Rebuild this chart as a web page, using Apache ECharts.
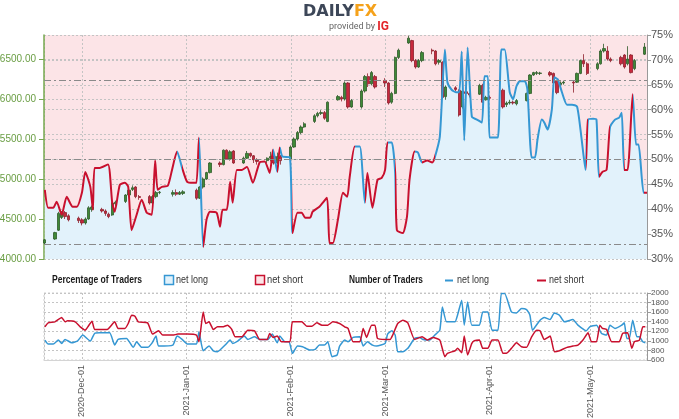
<!DOCTYPE html>
<html>
<head>
<meta charset="utf-8">
<script src="https://cdn.jsdelivr.net/npm/echarts@6/dist/echarts.min.js"></script>
<style>
  html, body { margin: 0; padding: 0; background: #fff; }
  #chart { width: 679px; height: 419px; }
</style>
</head>
<body>
<div id="chart"></div>
<script>
// daily candles: [date, open, close, low, high]
const candles = [
  ['2020-11-20', 4200, 4240, 4180, 4250], ['2020-11-23', 4250, 4330, 4240, 4340], ['2020-11-24', 4360, 4570, 4350, 4590],
  ['2020-11-25', 4520, 4580, 4500, 4600], ['2020-11-26', 4580, 4530, 4500, 4600], ['2020-11-27', 4540, 4490, 4470, 4560],
  ['2020-11-30', 4510, 4480, 4450, 4530], ['2020-12-01', 4490, 4450, 4420, 4510], ['2020-12-02', 4450, 4500, 4430, 4520],
  ['2020-12-03', 4500, 4640, 4490, 4660], ['2020-12-04', 4620, 4650, 4590, 4670], ['2020-12-07', 4620, 4600, 4580, 4640],
  ['2020-12-08', 4600, 4570, 4540, 4620], ['2020-12-09', 4560, 4530, 4510, 4580], ['2020-12-10', 4550, 4700, 4540, 4710],
  ['2020-12-11', 4690, 4710, 4660, 4730], ['2020-12-14', 4720, 4800, 4700, 4810], ['2020-12-15', 4800, 4860, 4790, 4880],
  ['2020-12-16', 4870, 4890, 4850, 4920], ['2020-12-17', 4900, 4780, 4760, 4910], ['2020-12-18', 4780, 4770, 4740, 4800],
  ['2020-12-21', 4780, 4700, 4680, 4800], ['2020-12-22', 4700, 4780, 4690, 4800], ['2020-12-23', 4780, 4830, 4760, 4850],
  ['2020-12-24', 4830, 4835, 4810, 4850], ['2020-12-28', 4810, 4830, 4780, 4860], ['2020-12-29', 4830, 4810, 4790, 4870],
  ['2020-12-30', 4810, 4830, 4800, 4850], ['2020-12-31', 4820, 4840, 4800, 4860], ['2021-01-04', 4860, 4760, 4740, 4880],
  ['2021-01-05', 4760, 4900, 4750, 4910], ['2021-01-06', 4900, 5000, 4880, 5020], ['2021-01-07', 5000, 5080, 4990, 5090],
  ['2021-01-08', 5080, 5200, 5070, 5210], ['2021-01-11', 5200, 5180, 5150, 5220], ['2021-01-12', 5180, 5360, 5170, 5370],
  ['2021-01-13', 5360, 5250, 5240, 5370], ['2021-01-14', 5250, 5340, 5230, 5360], ['2021-01-15', 5350, 5200, 5190, 5360],
  ['2021-01-18', 5200, 5260, 5190, 5280], ['2021-01-19', 5260, 5320, 5250, 5350], ['2021-01-20', 5320, 5290, 5270, 5330],
  ['2021-01-21', 5290, 5240, 5200, 5300], ['2021-01-22', 5240, 5220, 5180, 5260], ['2021-01-25', 5230, 5260, 5200, 5270],
  ['2021-01-26', 5260, 5280, 5220, 5340], ['2021-01-27', 5280, 5200, 5180, 5300], ['2021-01-28', 5200, 5280, 5190, 5330],
  ['2021-01-29', 5280, 5230, 5180, 5300], ['2021-02-01', 5250, 5400, 5220, 5420], ['2021-02-02', 5400, 5500, 5390, 5520],
  ['2021-02-03', 5500, 5580, 5480, 5600], ['2021-02-04', 5580, 5650, 5560, 5670], ['2021-02-05', 5650, 5690, 5640, 5710],
  ['2021-02-08', 5720, 5790, 5700, 5810], ['2021-02-09', 5790, 5820, 5770, 5840], ['2021-02-10', 5820, 5830, 5800, 5860],
  ['2021-02-11', 5830, 5760, 5740, 5850], ['2021-02-12', 5720, 5960, 5710, 5970], ['2021-02-15', 5990, 6030, 5980, 6050],
  ['2021-02-16', 6020, 6000, 5970, 6040], ['2021-02-17', 6000, 6200, 5980, 6220], ['2021-02-18', 6200, 5900, 5880, 6210],
  ['2021-02-19', 5900, 5980, 5890, 6000], ['2021-02-22', 5900, 6100, 5880, 6120], ['2021-02-23', 6100, 6280, 6080, 6300],
  ['2021-02-24', 6280, 6190, 6150, 6320], ['2021-02-25', 6190, 6330, 6170, 6350], ['2021-02-26', 6280, 6150, 6130, 6300],
  ['2021-03-01', 6230, 6200, 6150, 6260], ['2021-03-02', 6200, 5950, 5930, 6210], ['2021-03-03', 5960, 6070, 5940, 6090],
  ['2021-03-04', 6070, 6520, 6060, 6530], ['2021-03-05', 6520, 6610, 6500, 6630], ['2021-03-08', 6700, 6760, 6690, 6790],
  ['2021-03-09', 6730, 6480, 6460, 6740], ['2021-03-10', 6480, 6400, 6380, 6500], ['2021-03-11', 6400, 6480, 6390, 6500],
  ['2021-03-12', 6480, 6580, 6460, 6600], ['2021-03-15', 6610, 6600, 6560, 6630], ['2021-03-16', 6600, 6440, 6420, 6610],
  ['2021-03-17', 6460, 6480, 6430, 6500], ['2021-03-18', 6460, 6020, 6000, 6470], ['2021-03-19', 6030, 6150, 5990, 6170],
  ['2021-03-22', 6140, 6120, 6100, 6160], ['2021-03-23', 6110, 5800, 5780, 6120], ['2021-03-24', 5900, 6100, 5880, 6120],
  ['2021-03-25', 6090, 6070, 6040, 6110], ['2021-03-26', 6070, 6050, 6020, 6080], ['2021-03-29', 6060, 6170, 6050, 6190],
  ['2021-03-30', 6170, 5960, 5950, 6190], ['2021-03-31', 5990, 6020, 5980, 6040], ['2021-04-01', 6020, 6010, 5990, 6040],
  ['2021-04-05', 6110, 5900, 5880, 6130], ['2021-04-06', 5930, 5950, 5900, 5970], ['2021-04-07', 5950, 5960, 5930, 5990],
  ['2021-04-08', 5960, 5950, 5930, 5980], ['2021-04-09', 5940, 5980, 5920, 6000], ['2021-04-12', 5980, 6070, 5970, 6080],
  ['2021-04-13', 6070, 6300, 6060, 6310], ['2021-04-14', 6300, 6330, 6290, 6340], ['2021-04-15', 6320, 6330, 6300, 6350],
  ['2021-04-16', 6320, 6325, 6300, 6340], ['2021-04-19', 6330, 6300, 6280, 6350], ['2021-04-20', 6320, 6200, 6180, 6330],
  ['2021-04-21', 6230, 6080, 6060, 6240], ['2021-04-22', 6180, 6200, 6160, 6220], ['2021-04-23', 6200, 6210, 6180, 6230],
  ['2021-04-26', 6210, 6200, 6080, 6230], ['2021-04-27', 6210, 6320, 6200, 6330], ['2021-04-28', 6320, 6480, 6310, 6490],
  ['2021-04-29', 6480, 6440, 6400, 6560], ['2021-04-30', 6440, 6320, 6300, 6460], ['2021-05-03', 6380, 6440, 6360, 6460],
  ['2021-05-04', 6440, 6600, 6430, 6620], ['2021-05-05', 6600, 6630, 6580, 6690], ['2021-05-06', 6600, 6500, 6480, 6660],
  ['2021-05-07', 6500, 6480, 6460, 6520], ['2021-05-10', 6520, 6440, 6420, 6540], ['2021-05-11', 6550, 6400, 6380, 6560],
  ['2021-05-12', 6440, 6500, 6420, 6660], ['2021-05-13', 6550, 6330, 6320, 6560], ['2021-05-14', 6380, 6480, 6360, 6500],
  ['2021-05-17', 6560, 6650, 6550, 6700]
]

// percentage of traders net long
const pctDates = [
  '2020-11-20 00:00', '2020-11-21 00:00', '2020-11-22 12:00', '2020-11-23 12:00', '2020-11-25 00:00', '2020-11-26 12:00', '2020-11-28 06:00', '2020-11-29 12:00',
  '2020-12-01 00:00', '2020-12-02 00:00', '2020-12-03 12:00', '2020-12-04 06:00', '2020-12-04 18:00', '2020-12-06 06:00', '2020-12-08 18:00', '2020-12-10 00:00',
  '2020-12-10 18:00', '2020-12-12 06:00', '2020-12-13 18:00', '2020-12-14 18:00', '2020-12-15 18:00', '2020-12-17 06:00', '2020-12-18 18:00', '2020-12-20 06:00',
  '2020-12-21 18:00', '2020-12-22 18:00', '2020-12-23 12:00', '2020-12-24 18:00', '2020-12-26 12:00', '2020-12-27 18:00', '2020-12-29 06:00', '2020-12-30 18:00',
  '2021-01-01 06:00', '2021-01-03 00:00', '2021-01-04 00:00', '2021-01-04 18:00', '2021-01-06 00:00', '2021-01-07 00:00', '2021-01-08 00:00', '2021-01-10 00:00',
  '2021-01-11 00:00', '2021-01-11 18:00', '2021-01-13 00:00', '2021-01-14 00:00', '2021-01-14 18:00', '2021-01-16 00:00', '2021-01-17 12:00', '2021-01-19 00:00',
  '2021-01-20 18:00', '2021-01-22 18:00', '2021-01-24 06:00', '2021-01-25 18:00', '2021-01-26 18:00', '2021-01-28 00:00', '2021-01-28 18:00', '2021-01-29 12:00',
  '2021-01-31 18:00', '2021-02-01 12:00', '2021-02-03 00:00', '2021-02-04 06:00', '2021-02-05 06:00', '2021-02-06 18:00', '2021-02-07 12:00', '2021-02-09 12:00',
  '2021-02-11 18:00', '2021-02-12 12:00', '2021-02-13 12:00', '2021-02-15 00:00', '2021-02-16 12:00', '2021-02-17 18:00', '2021-02-18 12:00', '2021-02-20 00:00',
  '2021-02-21 12:00', '2021-02-23 00:00', '2021-02-23 18:00', '2021-02-25 06:00', '2021-02-26 18:00', '2021-02-28 00:00', '2021-03-01 00:00', '2021-03-01 18:00',
  '2021-03-03 00:00', '2021-03-04 00:00', '2021-03-04 12:00', '2021-03-06 06:00', '2021-03-07 12:00', '2021-03-08 06:00', '2021-03-09 18:00', '2021-03-10 18:00',
  '2021-03-12 00:00', '2021-03-13 12:00', '2021-03-15 00:00', '2021-03-15 18:00', '2021-03-17 06:00', '2021-03-18 18:00', '2021-03-19 12:00', '2021-03-20 18:00',
  '2021-03-22 00:00', '2021-03-23 00:00', '2021-03-23 18:00', '2021-03-24 12:00', '2021-03-25 12:00', '2021-03-26 18:00', '2021-03-28 06:00', '2021-03-29 18:00',
  '2021-03-30 12:00', '2021-03-31 12:00', '2021-04-01 00:00', '2021-04-02 00:00', '2021-04-03 12:00', '2021-04-04 12:00', '2021-04-05 12:00', '2021-04-07 00:00',
  '2021-04-08 00:00', '2021-04-09 00:00', '2021-04-10 00:00', '2021-04-11 12:00', '2021-04-12 06:00', '2021-04-13 12:00', '2021-04-14 12:00', '2021-04-15 06:00',
  '2021-04-16 12:00', '2021-04-17 06:00', '2021-04-18 06:00', '2021-04-19 12:00', '2021-04-20 06:00', '2021-04-21 06:00', '2021-04-22 12:00', '2021-04-24 00:00',
  '2021-04-25 12:00', '2021-04-27 00:00', '2021-04-28 06:00', '2021-04-29 12:00', '2021-04-30 06:00', '2021-05-01 18:00', '2021-05-02 18:00', '2021-05-03 12:00',
  '2021-05-04 12:00', '2021-05-05 18:00', '2021-05-06 18:00', '2021-05-08 06:00', '2021-05-09 12:00', '2021-05-10 06:00', '2021-05-11 00:00', '2021-05-12 00:00',
  '2021-05-13 12:00', '2021-05-14 12:00', '2021-05-15 06:00', '2021-05-16 18:00', '2021-05-17 18:00'
]
const pctLong = [
  43.9, 40.3, 40.3, 41.5, 38.9, 42.5, 40.5, 40.5,
  43.3, 47.5, 44.5, 39.9, 48.3, 48.3, 49.0, 41.3, 39.5, 44.9, 45.3, 44.5, 35.8, 38.9, 41.9, 39.3, 38.9, 49.8, 43.9, 44.5, 44.7, 47.9, 51.6, 48.3,
  45.5, 45.3, 45.3, 54.4, 32.4, 37.9, 39.5, 39.3, 36.5, 39.9, 39.9, 45.5, 41.3, 47.9, 47.9, 48.5, 45.3, 49.4, 49.6, 47.3, 52.0, 47.5, 52.4, 50.6, 50.4,
  35.2, 39.3, 39.3, 38.3, 38.3, 39.5, 40.5, 42.3, 33.2, 33.2, 37.9, 43.3, 42.5, 46.5, 52.6, 52.6, 41.3, 47.3, 40.3, 45.9, 46.3,
  47.9, 53.4, 53.4, 47.3, 35.8, 35.2, 38.5, 45.9, 51.6, 51.4, 49.4, 49.8, 49.4, 50.4, 54.6, 72.1, 65.5, 64.0, 63.5, 63.5, 71.7, 53.8, 72.5, 58.6, 58.0, 57.4, 66.7, 66.7,
  54.4, 54.4, 54.4, 72.1, 72.1, 63.5, 62.1, 64.7, 65.7, 65.7, 64.0, 50.4, 50.4, 54.0, 58.0, 57.4, 56.0, 60.0, 66.5, 66.1, 63.5, 61.0, 61.0, 60.6, 54.6, 47.9, 58.0,
  58.2, 58.0, 46.5, 47.5, 47.9, 56.4, 58.0, 58.4, 59.4, 47.9, 47.9, 63.1, 53.0, 53.0, 43.3, 43.3
]

// number of traders net long
const longDates = [
  '2020-11-20 00:00', '2020-11-21 00:00', '2020-11-22 12:00', '2020-11-24 00:00', '2020-11-25 00:00', '2020-11-26 00:00', '2020-11-28 00:00', '2020-11-29 18:00',
  '2020-12-01 06:00', '2020-12-03 12:00', '2020-12-04 18:00', '2020-12-06 06:00', '2020-12-09 06:00', '2020-12-10 18:00', '2020-12-11 18:00', '2020-12-14 06:00',
  '2020-12-16 06:00', '2020-12-17 06:00', '2020-12-18 18:00', '2020-12-20 12:00', '2020-12-21 18:00', '2020-12-23 00:00', '2020-12-23 18:00', '2020-12-28 00:00',
  '2020-12-29 06:00', '2020-12-30 18:00', '2021-01-01 06:00', '2021-01-04 00:00', '2021-01-04 18:00', '2021-01-06 00:00', '2021-01-07 18:00', '2021-01-09 00:00',
  '2021-01-10 06:00', '2021-01-12 12:00', '2021-01-14 00:00', '2021-01-14 18:00', '2021-01-16 06:00', '2021-01-18 06:00', '2021-01-19 06:00', '2021-01-21 06:00',
  '2021-01-22 18:00', '2021-01-25 06:00', '2021-01-26 12:00', '2021-01-28 00:00', '2021-01-28 18:00', '2021-01-30 06:00', '2021-01-31 12:00', '2021-02-01 12:00',
  '2021-02-03 00:00', '2021-02-04 12:00', '2021-02-06 18:00', '2021-02-08 06:00', '2021-02-09 12:00', '2021-02-11 00:00', '2021-02-12 00:00', '2021-02-13 06:00',
  '2021-02-14 18:00', '2021-02-15 12:00', '2021-02-17 00:00', '2021-02-18 00:00', '2021-02-19 12:00', '2021-02-21 12:00', '2021-02-22 12:00', '2021-02-23 18:00',
  '2021-02-25 06:00', '2021-02-26 12:00', '2021-03-01 00:00', '2021-03-01 18:00', '2021-03-03 00:00', '2021-03-04 00:00', '2021-03-04 18:00', '2021-03-06 06:00',
  '2021-03-07 18:00', '2021-03-09 18:00', '2021-03-11 06:00', '2021-03-12 06:00', '2021-03-14 06:00', '2021-03-15 18:00', '2021-03-17 06:00', '2021-03-18 00:00',
  '2021-03-19 06:00', '2021-03-21 18:00', '2021-03-22 12:00', '2021-03-23 18:00', '2021-03-24 12:00', '2021-03-25 12:00', '2021-03-26 18:00', '2021-03-29 00:00',
  '2021-03-30 00:00', '2021-03-31 12:00', '2021-04-01 18:00', '2021-04-03 12:00', '2021-04-04 12:00', '2021-04-05 12:00', '2021-04-07 12:00', '2021-04-09 00:00',
  '2021-04-10 12:00', '2021-04-12 00:00', '2021-04-13 00:00', '2021-04-13 18:00', '2021-04-16 00:00', '2021-04-17 06:00', '2021-04-19 00:00', '2021-04-20 06:00',
  '2021-04-21 18:00', '2021-04-23 06:00', '2021-04-25 18:00', '2021-04-27 06:00', '2021-04-29 18:00', '2021-04-30 18:00', '2021-05-02 18:00', '2021-05-04 06:00',
  '2021-05-05 18:00', '2021-05-06 18:00', '2021-05-08 06:00', '2021-05-10 06:00', '2021-05-11 00:00', '2021-05-11 18:00', '2021-05-12 12:00', '2021-05-13 12:00',
  '2021-05-14 18:00', '2021-05-15 12:00', '2021-05-16 12:00', '2021-05-17 06:00'
]
const longCount = [
  1016, 933, 933, 1016, 947, 1030, 960, 1002,
  1120, 995, 1155, 1168, 1168, 912, 1030, 1051, 864, 981, 864, 864, 947, 1099, 891, 912, 1099, 1030,
  933, 933, 1189, 793, 891, 793, 773, 912, 1016, 947, 995, 1099, 1030, 1085, 1030, 1030, 1141, 960, 1099, 981, 981,
  739, 891, 877, 808, 822, 912, 912, 981, 669, 704, 891, 1016, 981, 1072, 1085, 891, 981, 912, 891,
  947, 1141, 1210, 1120, 773, 773, 843, 1051, 1072, 1030, 1016, 1120, 1224, 1709, 1397, 1397, 1536, 1848, 1328, 1813, 1328, 1328, 1605, 1605,
  1224, 1224, 1987, 1987, 1605, 1584, 1675, 1654, 1536, 1224, 1432, 1488, 1446, 1584, 1536, 1397, 1446, 1328, 1210, 1293,
  1328, 1155, 1120, 1328, 1259, 1328, 1376, 1051, 1051, 1432, 1085, 1085, 981, 960
]

// number of traders net short
const shortDates = [
  '2020-11-20 00:00', '2020-11-21 00:00', '2020-11-23 00:00', '2020-11-25 00:00', '2020-11-26 00:00', '2020-11-26 18:00', '2020-11-29 00:00', '2020-11-30 12:00',
  '2020-12-02 00:00', '2020-12-02 18:00', '2020-12-04 00:00', '2020-12-04 18:00', '2020-12-06 06:00', '2020-12-08 12:00', '2020-12-10 18:00', '2020-12-11 18:00',
  '2020-12-13 18:00', '2020-12-14 18:00', '2020-12-15 18:00', '2020-12-16 18:00', '2020-12-17 18:00', '2020-12-20 12:00', '2020-12-22 00:00', '2020-12-23 18:00',
  '2020-12-25 00:00', '2020-12-28 00:00', '2020-12-29 12:00', '2021-01-01 06:00', '2021-01-04 00:00', '2021-01-04 18:00', '2021-01-06 00:00', '2021-01-06 18:00',
  '2021-01-07 18:00', '2021-01-09 00:00', '2021-01-10 06:00', '2021-01-11 18:00', '2021-01-13 06:00', '2021-01-14 12:00', '2021-01-15 12:00', '2021-01-17 12:00',
  '2021-01-19 06:00', '2021-01-21 06:00', '2021-01-22 18:00', '2021-01-25 00:00', '2021-01-25 18:00', '2021-01-26 18:00', '2021-01-28 00:00', '2021-01-29 06:00',
  '2021-01-31 18:00', '2021-02-01 12:00', '2021-02-04 06:00', '2021-02-05 18:00', '2021-02-07 06:00', '2021-02-08 18:00', '2021-02-10 06:00', '2021-02-12 00:00',
  '2021-02-13 12:00', '2021-02-15 12:00', '2021-02-17 00:00', '2021-02-18 00:00', '2021-02-19 12:00', '2021-02-21 12:00', '2021-02-22 12:00', '2021-02-23 12:00',
  '2021-02-25 00:00', '2021-02-26 00:00', '2021-02-26 18:00', '2021-03-01 00:00', '2021-03-02 12:00', '2021-03-03 06:00', '2021-03-04 18:00', '2021-03-06 06:00',
  '2021-03-07 18:00', '2021-03-09 18:00', '2021-03-12 00:00', '2021-03-13 12:00', '2021-03-15 06:00', '2021-03-17 06:00', '2021-03-18 18:00', '2021-03-19 12:00',
  '2021-03-21 18:00', '2021-03-22 12:00', '2021-03-23 18:00', '2021-03-24 12:00', '2021-03-25 12:00', '2021-03-26 18:00', '2021-03-27 12:00', '2021-03-29 00:00',
  '2021-03-30 00:00', '2021-03-31 12:00', '2021-04-01 18:00', '2021-04-03 12:00', '2021-04-05 00:00', '2021-04-06 00:00', '2021-04-07 12:00', '2021-04-09 00:00',
  '2021-04-10 12:00', '2021-04-12 00:00', '2021-04-13 12:00', '2021-04-15 00:00', '2021-04-16 00:00', '2021-04-17 06:00', '2021-04-19 00:00', '2021-04-20 06:00',
  '2021-04-21 18:00', '2021-04-24 00:00', '2021-04-25 18:00', '2021-04-27 06:00', '2021-04-28 18:00', '2021-04-30 06:00', '2021-05-01 06:00', '2021-05-02 18:00',
  '2021-05-03 18:00', '2021-05-04 12:00', '2021-05-05 18:00', '2021-05-07 06:00', '2021-05-09 12:00', '2021-05-10 12:00', '2021-05-12 00:00', '2021-05-13 06:00',
  '2021-05-14 00:00', '2021-05-15 12:00', '2021-05-16 12:00', '2021-05-17 06:00'
]
const shortCount = [
  1293, 1376, 1397, 1488, 1397, 1418, 1397, 1293,
  1224, 1293, 1411, 1238, 1238, 1238, 1397, 1259, 1259, 1363, 1536, 1515, 1397, 1376, 1141, 1210, 1120, 1120, 1141,
  1141, 1120, 981, 1605, 1363, 1397, 1238, 1293, 1293, 1328, 1238, 1085, 1085, 1224, 1210, 1030, 1030, 1155, 1072, 1099, 981, 981,
  1397, 1397, 1307, 1307, 1376, 1328, 1328, 1397, 1363, 1293, 1259, 981, 981, 1259, 1072, 1328, 1328, 1051,
  1030, 1030, 1120, 1363, 1432, 1376, 1030, 1085, 1016, 1072, 1016, 669, 739, 793, 843, 752, 1099, 704, 947, 1002, 1016, 843, 843,
  1016, 1016, 739, 739, 843, 960, 877, 864, 1085, 1224, 1210, 1030, 1099, 773, 793, 864, 891, 912, 1016, 1168,
  981, 981, 1328, 1259, 1238, 981, 981, 1155, 1168, 843, 981, 1016, 1293, 1293
]

const BLUE = '#3597d3'
const RED = '#c8102e'
const FONT = "'Liberation Sans', Arial, sans-serif"
const MONTHS = ['Jan', 'Feb', 'Mar', 'Apr', 'May', 'Jun', 'Jul', 'Aug', 'Sep', 'Oct', 'Nov', 'Dec']
const xMin = '2020-11-19 18:00'
const xMax = '2021-05-17 18:00'

function zip (dates, values) {
  return dates.map((d, i) => [d, values[i]])
}

// segments that start below 50% are drawn red, the rest blue
function redPieces () {
  const pieces = []
  for (let i = 0; i < pctLong.length - 1; i++) {
    if (pctLong[i] >= 50) continue
    const a = echarts.time.parse(i === 0 ? xMin : pctDates[i]).getTime()
    const b = echarts.time.parse(pctDates[i + 1]).getTime()
    const last = pieces[pieces.length - 1]
    if (last && last.lte === a) last.lte = b
    else pieces.push({ gte: a, lte: b, color: RED })
  }
  return pieces
}

// only month starts get a label
function monthLabel (v) {
  const d = new Date(v)
  if (d.getDate() !== 1 || d.getHours() !== 0) return ''
  return d.getFullYear() + '-' + MONTHS[d.getMonth()] + '-' + String(d.getDate()).padStart(2, '0')
}

// the original uses a condensed face, squeeze the legend text to its width
const ctx = document.createElement('canvas').getContext('2d')
function legendText (text, x, width, bold) {
  const font = (bold ? 'bold ' : '') + '11px ' + FONT
  ctx.font = font
  const w = ctx.measureText(text).width
  return { type: 'text', x: x, y: 280, scaleX: width / w, style: { text: text, font: font, fill: bold ? '#1a1a1a' : '#333', align: 'left', verticalAlign: 'middle' } }
}

const dotted = { show: true, lineStyle: { color: '#c4c4c4', type: [2, 2], width: 1 } }

const chart = echarts.init(document.getElementById('chart'))
chart.setOption({
  animation: false,
  textStyle: { fontFamily: FONT },
  grid: [
    { left: 44, right: 32, top: 35, height: 224, show: true, backgroundColor: '#fce4e7', borderWidth: 0, outerBoundsMode: 'none', containLabel: false },
    { left: 44, right: 32, top: 293, height: 67, show: true, borderColor: '#cfcfcf', borderWidth: 1, borderType: [2, 2], outerBoundsMode: 'none', containLabel: false }
  ],
  xAxis: [
    {
      type: 'time', gridIndex: 0, min: xMin, max: xMax, splitNumber: 6,
      axisLine: { show: false }, axisLabel: { show: false }, axisTick: { show: false },
      splitLine: dotted
    },
    {
      type: 'time', gridIndex: 1, min: xMin, max: xMax, splitNumber: 6,
      axisLine: { show: true, lineStyle: { color: '#d4d4d4' } },
      axisTick: { show: false },
      axisLabel: { rotate: 90, margin: 5, fontSize: 9, color: '#555', fontFamily: FONT, formatter: monthLabel, hideOverlap: false },
      splitLine: dotted
    }
  ],
  yAxis: [
    {
      type: 'value', gridIndex: 0, position: 'left', min: 4000, max: 6800, interval: 500,
      axisLine: { show: true, lineStyle: { color: '#76a84e', width: 1.5 } },
      axisTick: { show: true, length: 5, lineStyle: { color: '#76a84e' } },
      axisLabel: { color: '#6a9e44', fontSize: 10, margin: 8, showMaxLabel: false, fontFamily: FONT, formatter: v => v.toFixed(2) },
      splitLine: dotted
    },
    {
      type: 'value', gridIndex: 0, position: 'right', min: 30, max: 75, interval: 5,
      axisLine: { show: true, lineStyle: { color: '#999' } },
      axisTick: { show: true, length: 4, lineStyle: { color: '#999' } },
      axisLabel: { color: '#555', fontSize: 11, margin: 4, fontFamily: FONT, showMinLabel: true, showMaxLabel: true, formatter: v => v + '%' },
      splitLine: dotted
    },
    {
      type: 'value', gridIndex: 1, position: 'right', min: 600, max: 2000, interval: 200,
      axisLine: { show: true, lineStyle: { color: '#999' } },
      axisTick: { show: true, length: 4, lineStyle: { color: '#999' } },
      axisLabel: {
        color: '#555', fontSize: 8, lineHeight: 8, margin: 4, fontFamily: FONT, interval: 0,
        showMinLabel: true, showMaxLabel: true, hideOverlap: false, formatter: v => String(v)
      },
      splitLine: dotted
    }
  ],
  visualMap: [{
    type: 'piecewise', show: false, seriesIndex: 2, dimension: 0,
    pieces: redPieces(), outOfRange: { color: BLUE }
  }],
  series: [
    {
      // light blue fill below the net long share
      type: 'line', xAxisIndex: 0, yAxisIndex: 1, data: zip(pctDates, pctLong),
      showSymbol: false, smooth: 0.2, lineStyle: { width: 0 }, z: 1,
      areaStyle: { color: '#e2f2fb', opacity: 1 },
      markLine: {
        silent: true, symbol: 'none', label: { show: false },
        lineStyle: { color: '#8a8a8a', type: [7, 3, 2, 3], width: 1.2 },
        data: [{ yAxis: 66 }, { yAxis: 50 }, { yAxis: 33 }]
      }
    },
    {
      type: 'candlestick', xAxisIndex: 0, yAxisIndex: 0, data: candles, z: 3,
      encode: { x: 0, y: [1, 2, 3, 4] }, barWidth: 2.8,
      itemStyle: { color: '#3f8a37', color0: '#c8283c', borderColor: '#2f5a2a', borderColor0: '#8d1f2c', borderWidth: 0.8 }
    },
    {
      type: 'line', xAxisIndex: 0, yAxisIndex: 1, data: zip(pctDates, pctLong),
      showSymbol: false, smooth: 0.2, z: 4, lineStyle: { width: 2 }
    },
    {
      type: 'line', xAxisIndex: 1, yAxisIndex: 2, data: zip(longDates, longCount),
      showSymbol: false, smooth: 0.15, lineStyle: { width: 1.5, color: BLUE }, itemStyle: { color: BLUE }
    },
    {
      type: 'line', xAxisIndex: 1, yAxisIndex: 2, data: zip(shortDates, shortCount),
      showSymbol: false, smooth: 0.15, lineStyle: { width: 1.5, color: RED }, itemStyle: { color: RED }
    }
  ],
  graphic: [
    // logo
    { type: 'text', left: 303, top: 4, style: { text: '{a|DAILY}{b|FX}', rich: {
      a: { fontSize: 16, fontWeight: 'bold', fill: '#3d4758', fontFamily: 'DejaVu Sans' },
      b: { fontSize: 16, fontWeight: 'bold', fill: '#f5a21b', fontFamily: 'DejaVu Sans' } } } },
    { type: 'text', left: 329, top: 21, style: { text: '{a|provided by }{b|IG}', rich: {
      a: { fontSize: 9, fill: '#666', fontFamily: 'Roboto' },
      b: { fontSize: 12, fontWeight: 'bold', fill: '#e3262b', fontFamily: 'Roboto' } } } },
    // legend
    legendText('Percentage of Traders', 52, 90, true),
    { type: 'rect', shape: { x: 164.5, y: 275.5, width: 9, height: 9 }, style: { fill: '#e2f2fb', stroke: BLUE, lineWidth: 1.5 } },
    legendText('net long', 176, 32, false),
    { type: 'rect', shape: { x: 255.5, y: 275.5, width: 9, height: 9 }, style: { fill: '#fce4e7', stroke: RED, lineWidth: 1.5 } },
    legendText('net short', 267, 36, false),
    legendText('Number of Traders', 349, 74, true),
    { type: 'line', shape: { x1: 445, y1: 280.5, x2: 453, y2: 280.5 }, style: { stroke: BLUE, lineWidth: 2 } },
    legendText('net long', 457, 32, false),
    { type: 'line', shape: { x1: 537, y1: 280.5, x2: 546, y2: 280.5 }, style: { stroke: RED, lineWidth: 2 } },
    legendText('net short', 549, 35, false)
  ]
})
</script>
</body>
</html>
